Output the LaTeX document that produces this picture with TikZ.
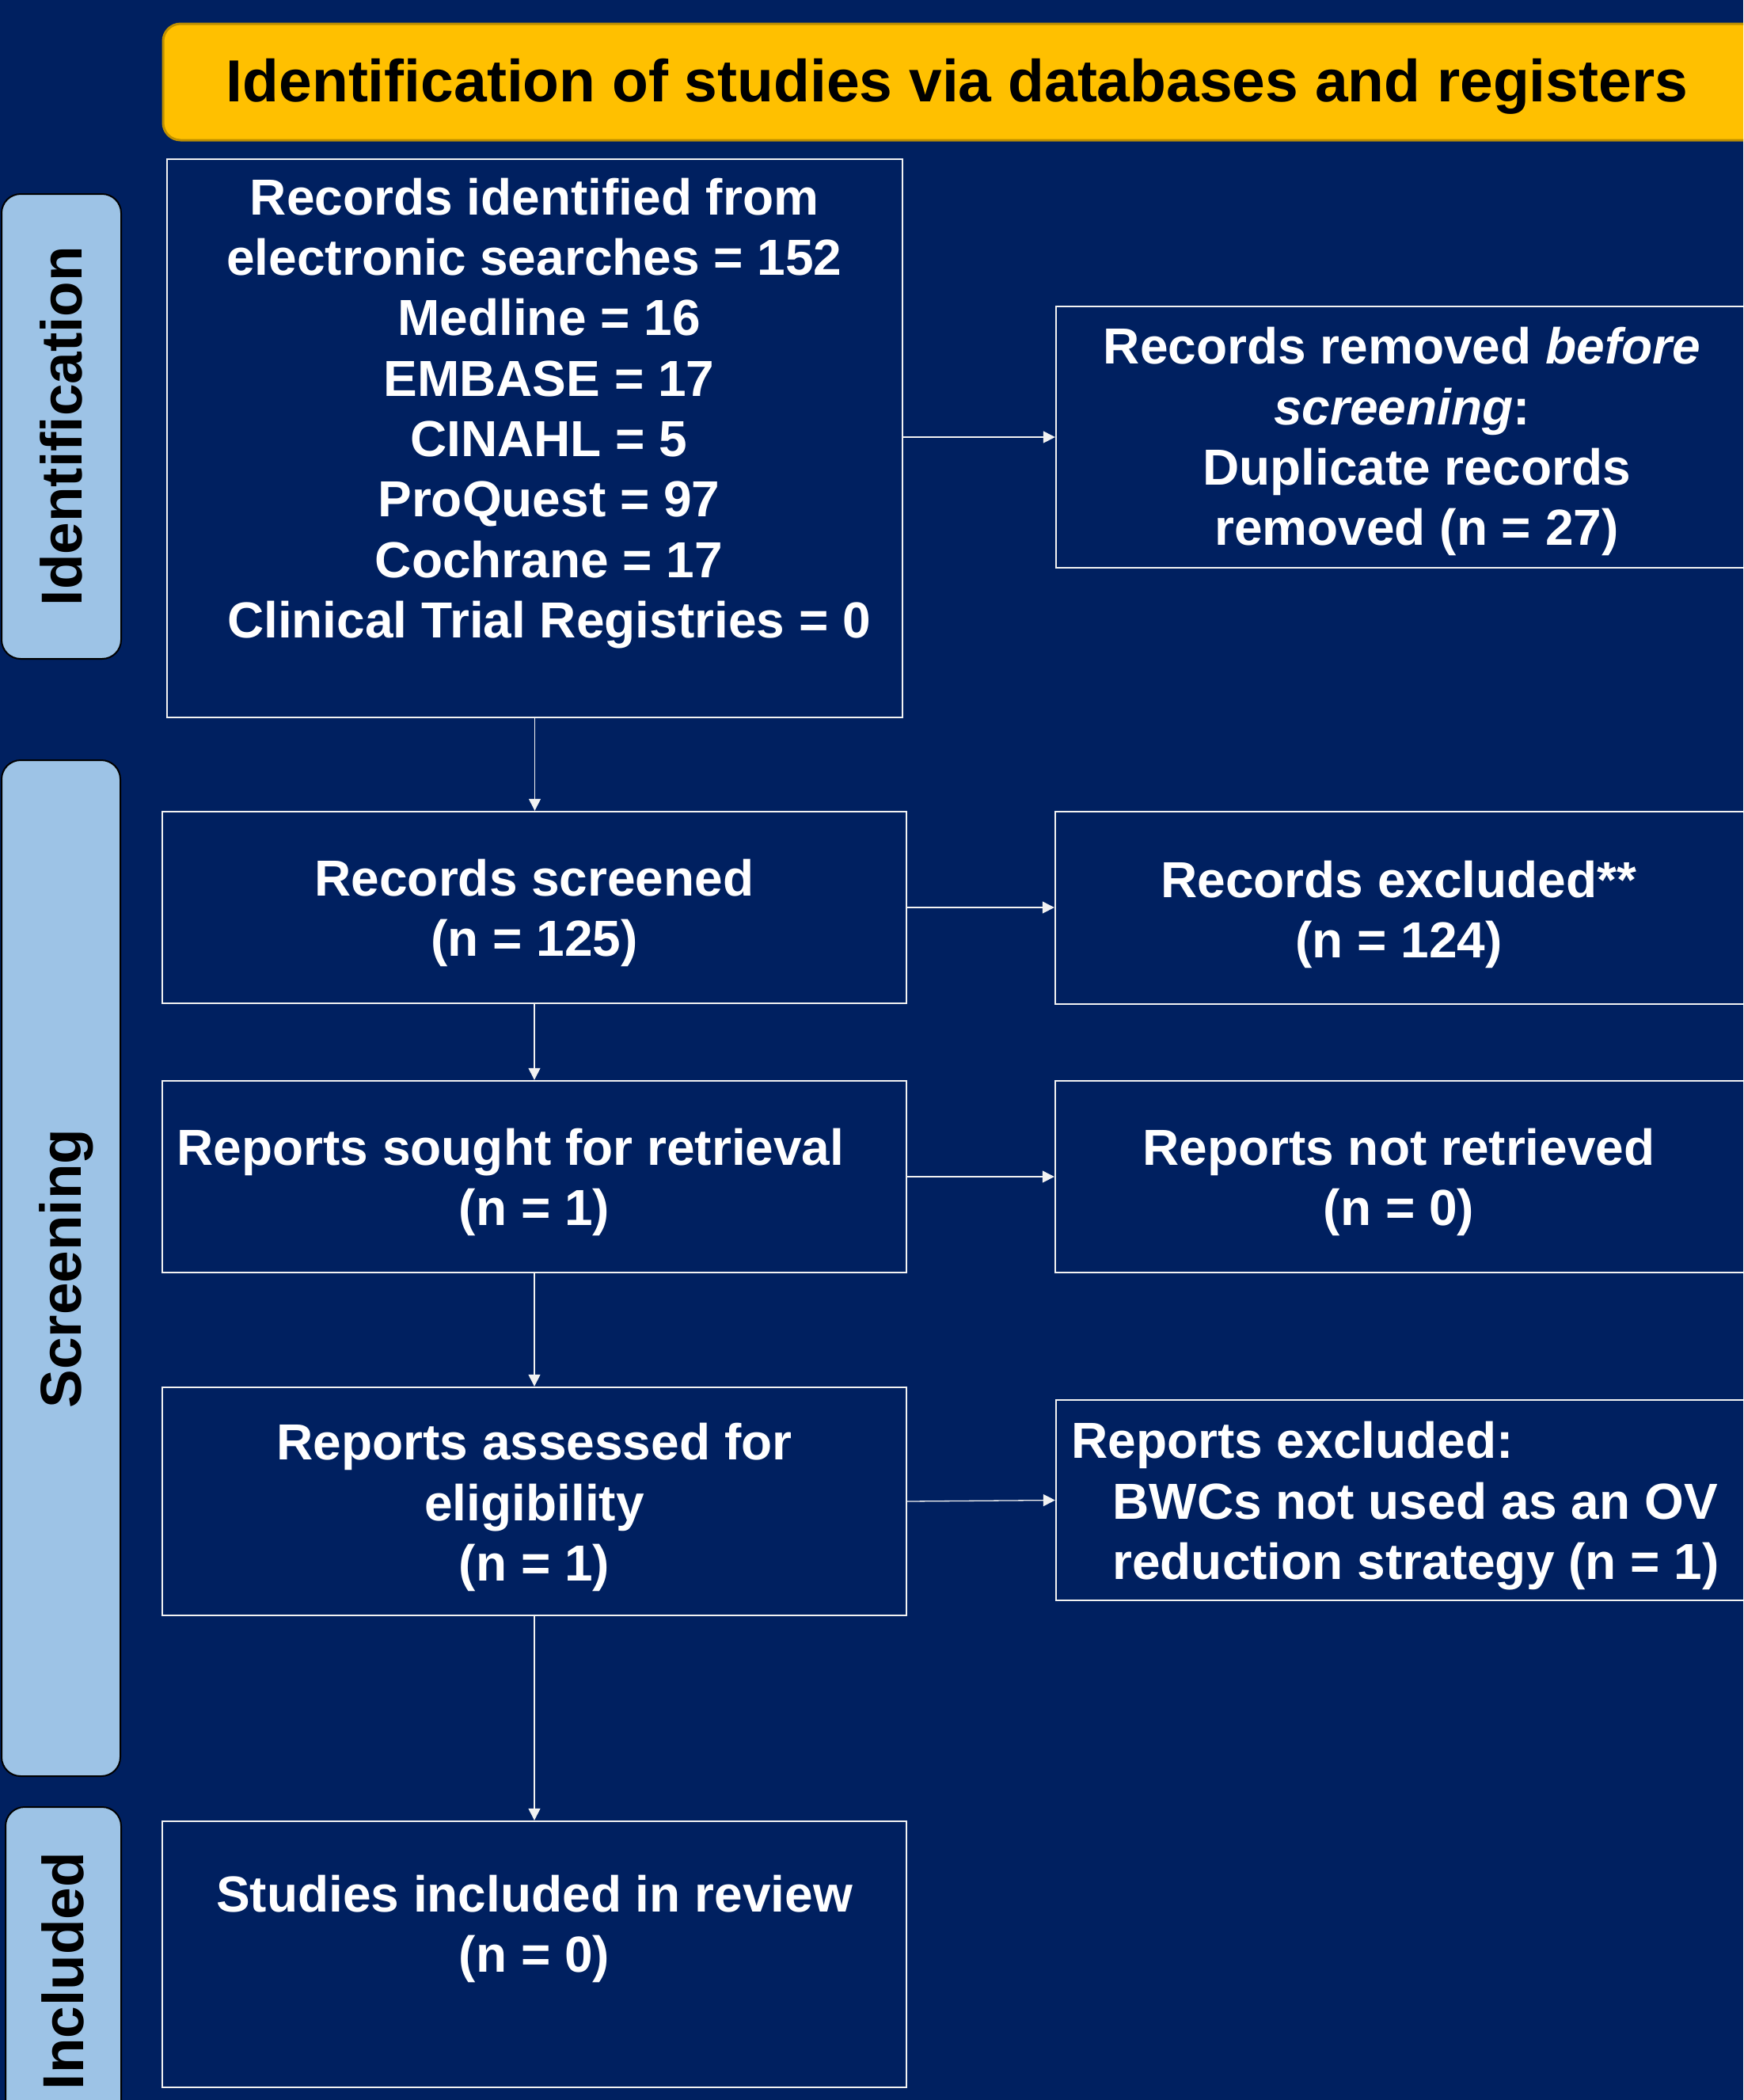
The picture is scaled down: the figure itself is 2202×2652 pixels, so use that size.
\documentclass[tikz,border=0pt]{standalone}
\usepackage{fontspec}
\setmainfont{Liberation Sans}
\usetikzlibrary{arrows.meta}
\definecolor{bg}{HTML}{002060}
\definecolor{gold}{HTML}{FFC000}
\definecolor{goldedge}{HTML}{BF9000}
\definecolor{side}{HTML}{9DC3E6}
\definecolor{edge}{HTML}{F2F2F2}
\begin{document}
\begin{tikzpicture}[x=0.5pt,y=-0.5pt,
  box/.style={draw=edge, line width=1.2pt, inner sep=0pt},
  txt/.style={text=white, font=\fontsize{32pt}{38.15pt}\selectfont\bfseries, align=center, inner sep=0pt,
    execute at begin node=\strut, execute at end node=\strut},
  sidebar/.style={draw=black, line width=1pt, fill=side, rounded corners=12pt, inner sep=0pt},
  sidelbl/.style={font=\fontsize{36.5pt}{44pt}\selectfont\bfseries, rotate=90, anchor=base, inner sep=0pt},
  arr/.style={draw=edge, line width=0.65pt, -{Triangle[length=7.5pt,width=7.5pt]}}
]
\clip (0,0) rectangle (2202,2652);
\fill[bg] (0,0) rectangle (2202,2652);

% banner
\node[draw=goldedge, fill=gold, line width=1.5pt, rounded corners=11pt, inner sep=0pt,
  minimum width=1012pt, minimum height=73.5pt] (banner) at (1218,103.5) {};
\node[font=\fontsize{37.5pt}{45pt}\selectfont\bfseries, anchor=base, inner sep=0pt] (bannertxt) at (1209,128)
  {Identification of studies via databases and registers};

% side bars
\node[sidebar, minimum width=75.5pt, minimum height=293.5pt] (sideid) at (77.5,538.5) {};
\node[sidelbl] (sideidtxt) at (103,538) {Identification};
\node[sidebar, minimum width=75pt, minimum height=641.5pt] (sidescr) at (77,1601.5) {};
\node[sidelbl] (sidescrtxt) at (102,1602) {Screening};
\node[sidebar, minimum width=73pt, minimum height=209pt] (sideinc) at (80,2491) {};
\node[sidelbl] (sideinctxt) at (105,2489) {Included};

% boxes
\node[box, minimum width=464.5pt, minimum height=352.5pt] (b1) at (675.5,553.5) {};
\node[box, minimum width=440.5pt, minimum height=165pt] (rem) at (1774.5,552) {};
\node[box, minimum width=470pt, minimum height=121pt] (scr) at (675,1146) {};
\node[box, minimum width=441pt, minimum height=121.5pt] (exc) at (1774,1146.5) {};
\node[box, minimum width=470pt, minimum height=121pt] (sou) at (675,1486) {};
\node[box, minimum width=441pt, minimum height=121pt] (notr) at (1774,1486) {};
\node[box, minimum width=470pt, minimum height=144pt] (ass) at (675,1896) {};
\node[box, minimum width=440.5pt, minimum height=126.5pt] (rexc) at (1774.5,1894.5) {};
\node[box, minimum width=470pt, minimum height=168pt] (inc) at (675,2468) {};

% texts
\node[txt] (t1) at (675,526.5) {Records identified from\\electronic searches = 152\\
  \hspace*{18.5pt}Medline = 16\\\hspace*{18.5pt}EMBASE = 17\\\hspace*{18.5pt}CINAHL = 5\\
  \hspace*{18.5pt}ProQuest = 97\\\hspace*{18.5pt}Cochrane = 17\\\hspace*{18.5pt}Clinical Trial Registries = 0};
\node[txt] (trem) at (1771,562.5) {Records removed \textit{before}\\\textit{screening}:\\
  \hspace*{18.5pt}Duplicate records\\\hspace*{18.5pt}removed (n = 27)};
\node[txt] (tscr) at (675,1158) {Records screened\\(n = 125)};
\node[txt] (texc) at (1767,1159.5) {Records excluded**\\(n = 124)};
\node[txt] (tsou) at (675,1497.5) {Reports sought for retrieval\hspace*{30pt}\\(n = 1)};
\node[txt] (tnot) at (1767,1497.5) {Reports not retrieved\\(n = 0)};
\node[txt] (tass) at (675,1908.5) {Reports assessed for\\eligibility\\(n = 1)};
\node[txt, align=left, anchor=west] (trexc) at (1353,1906.5) {Reports excluded:\\
  \hspace*{26pt}BWCs not used as an OV\\\hspace*{26pt}reduction strategy (n = 1)};
\node[txt] (tinc) at (675,2440.5) {Studies included in review\\(n = 0)};

% connectors
\draw[arr] (b1.south) -- (b1.south |- scr.north);
\draw[arr] (b1.east |- rem.west) -- (rem.west);
\draw[arr] (scr.south) -- (sou.north);
\draw[arr] (scr.east) -- (exc.west |- scr.east);
\draw[arr] (sou.east) -- (notr.west);
\draw[arr] (sou.south) -- (ass.north);
\draw[arr] (ass.east) -- (rexc.west);
\draw[arr] (ass.south) -- (inc.north);
\end{tikzpicture}
\end{document}
